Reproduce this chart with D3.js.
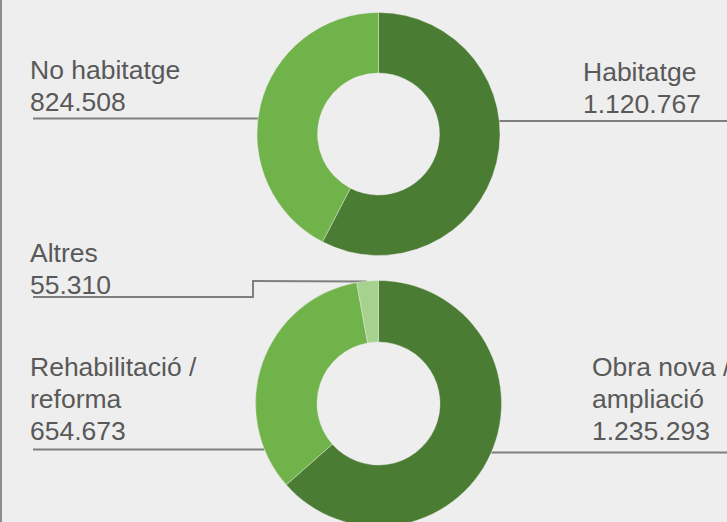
<!DOCTYPE html>
<html><head><meta charset="utf-8">
<script src="https://cdn.jsdelivr.net/npm/d3@7/dist/d3.min.js"></script>
<style>
html,body{margin:0;padding:0;background:#eeeeee;overflow:hidden}
svg{display:block}
text{font-family:"Liberation Sans",Arial,sans-serif;font-size:26.5px;fill:#595959}
</style></head>
<body>
<script>
// Data
const tipusCategories = ["Habitatge", "No habitatge"];
const tipusValues = [1120767, 824508];
const obraCategories = ["Obra nova / ampliació", "Rehabilitació / reforma", "Altres"];
const obraValues = [1235293, 654673, 55310];
const tipusLabels = [["Habitatge", "1.120.767"], ["No habitatge", "824.508"]];
const obraLabels = [["Obra nova /", "ampliació", "1.235.293"], ["Rehabilitació /", "reforma", "654.673"], ["Altres", "55.310"]];

const W = 727, H = 522;
const svg = d3.select("body").append("svg").attr("width", W).attr("height", H);
svg.append("rect").attr("width", W).attr("height", H).attr("fill", "#eeeeee");
svg.append("line").attr("x1", 1).attr("x2", 1).attr("y1", 0).attr("y2", H)
  .attr("stroke", "#8c8c8c").attr("stroke-width", 2);

const color = d3.scaleOrdinal().domain([0, 1, 2]).range(["#4b7c33", "#71b34b", "#a6d28d"]);
const pie = d3.pie().sort(null).value(d => d);
const cx = 378.5;
const donuts = [
  {cy: 134, r: 121.5, ir: 61, values: tipusValues},
  {cy: 403.5, r: 123, ir: 61.5, values: obraValues}
];

function edgeX(d, y, side) {
  const dy = y - d.cy;
  return cx + side * Math.sqrt(d.r * d.r - dy * dy);
}

const lineColor = "#7f7f7f";
function leader(pts) {
  svg.append("path").attr("d", d3.line()(pts)).attr("fill", "none")
    .attr("stroke", lineColor).attr("stroke-width", 2);
}
// Leader lines
const d0 = donuts[0], d1 = donuts[1];
leader([[33, 118.5], [edgeX(d0, 118.5, -1), 118.5]]);
leader([[edgeX(d0, 121, 1), 121], [W, 121]]);
leader([[33, 297], [253, 297], [253, 281], [367, d1.cy - d1.r + 1]]);
leader([[33, 449.5], [edgeX(d1, 449.5, -1), 449.5]]);
leader([[edgeX(d1, 452.5, 1), 452.5], [W, 452.5]]);

// Donuts
donuts.forEach(d => {
  const arc = d3.arc().innerRadius(d.ir).outerRadius(d.r);
  const g = svg.append("g").attr("transform", `translate(${cx},${d.cy})`);
  g.selectAll("path").data(pie(d.values)).join("path")
    .attr("d", arc).attr("fill", (p, i) => color(i))
    .attr("stroke", "#eeeeee").attr("stroke-width", 0.4);
});

// Labels
function label(lines, x, y0) {
  const t = svg.append("text").attr("x", x).attr("y", y0);
  lines.forEach((s, i) => t.append("tspan").attr("x", x).attr("y", y0 + i * 32).text(s));
}
label(tipusLabels[1], 30, 79);
label(tipusLabels[0], 583, 80.5);
label(obraLabels[2], 30, 261.5);
label(obraLabels[1], 30, 375.5);
label(obraLabels[0], 592, 375.5);
</script>
</body></html>
